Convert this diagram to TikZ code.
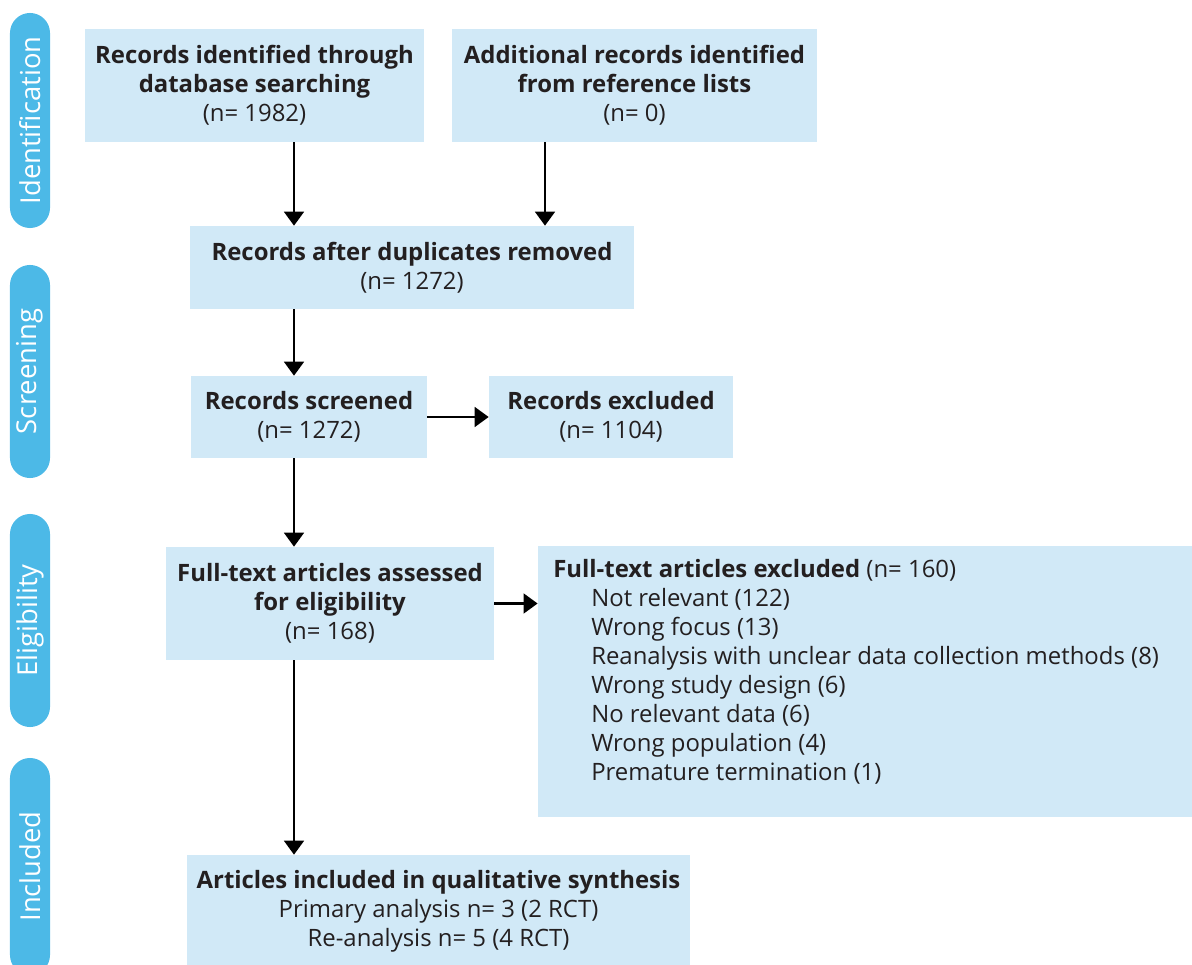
\documentclass[tikz,border=0pt]{standalone}
\usepackage{fontspec}
\setmainfont{Open Sans}
\usetikzlibrary{arrows.meta, positioning}
\definecolor{boxblue}{RGB}{209,233,247}
\definecolor{pillblue}{RGB}{76,185,231}
\definecolor{txtdark}{RGB}{35,31,32}
\tikzset{
  stage/.style={rectangle, fill=pillblue, rounded corners=0.5cm, minimum width=1cm,
    inner sep=0pt, text=white, font=\fontsize{17}{20.6}\selectfont},
  stagetext/.style={rotate=90, text=white, font=\fontsize{19.5}{22}\selectfont},
  recbox/.style={rectangle, fill=boxblue, align=center, inner sep=0pt,
    text=txtdark, font=\fontsize{17}{20.6}\selectfont},
  flow/.style={-{Triangle[width=14pt, length=10pt]}, line width=2pt, color=black}
}

\begin{document}
\begin{tikzpicture}[x=0.025cm, y=-0.025cm]
  \useasboundingbox (0,0) rectangle (1192,965);

  % Stage labels on the left
  \node[stage, minimum height=5.375cm] (sIdent) at (30,120.5) {};
  \node[stagetext] at (sIdent) {Identification};
  \node[stage, minimum height=5.325cm] (sScreen) at (30,371.5) {};
  \node[stagetext] at (sScreen) {Screening};
  \node[stage, minimum height=5.325cm] (sElig) at (30,620.5) {};
  \node[stagetext] at (sElig) {Eligibility};
  \node[stage, minimum height=5.425cm] (sIncl) at (30,866.5) {};
  \node[stagetext] at (sIncl) {Included};

  % Identification
  \node[recbox, minimum width=8.475cm, minimum height=2.825cm] (dbase) at (254.5,85.5)
    {\textbf{Records identified through}\\\textbf{database searching}\\(n= 1982)};
  \node[recbox, minimum width=9.125cm, minimum height=2.825cm] (refs) at (634.5,85.5)
    {\textbf{Additional records identified}\\\textbf{from reference lists}\\(n= 0)};

  % Screening
  \node[recbox, minimum width=11.1cm, minimum height=2.075cm] (dedup) at (412,267.5)
    {\textbf{Records after duplicates removed}\\(n= 1272)};
  \node[recbox, minimum width=5.9cm, minimum height=2.05cm] (screened) at (309,417)
    {\textbf{Records screened}\\(n= 1272)};
  \node[recbox, minimum width=6.1cm, minimum height=2.05cm] (excl) at (611,417)
    {\textbf{Records excluded}\\(n= 1104)};

  % Eligibility
  \node[recbox, minimum width=8.2cm, minimum height=2.825cm] (fulltext) at (330,603.5)
    {\textbf{Full-text articles assessed}\\\textbf{for eligibility}\\(n= 168)};
  \node[recbox, minimum width=16.35cm, minimum height=6.775cm] (ftexcl) at (865,681.5) {};
  \node[anchor=north west, align=left, inner sep=0pt, text=txtdark,
    font=\fontsize{17}{20.6}\selectfont] (ftlist) at (553,559)
    {\textbf{Full-text articles excluded} (n= 160)\\
     \hspace*{0.95cm}Not relevant (122)\\
     \hspace*{0.95cm}Wrong focus (13)\\
     \hspace*{0.95cm}Reanalysis with unclear data collection methods (8)\\
     \hspace*{0.95cm}Wrong study design (6)\\
     \hspace*{0.95cm}No relevant data (6)\\
     \hspace*{0.95cm}Wrong population (4)\\
     \hspace*{0.95cm}Premature termination (1)};

  % Included
  \node[recbox, minimum width=12.575cm, minimum height=2.8cm] (incl) at (438.5,911)
    {\textbf{Articles included in qualitative synthesis}\\Primary analysis n= 3 (2 RCT)\\Re-analysis n= 5 (4 RCT)};

  % Connectors
  \coordinate (spine) at (294,0);
  \coordinate (spineB) at (545,0);
  \draw[flow] (dbase.south -| spine) -- (dedup.north -| spine);
  \draw[flow] (refs.south -| spineB) -- (dedup.north -| spineB);
  \draw[flow] (dedup.south -| spine) -- (screened.north -| spine);
  \draw[flow] (screened.east) -- (excl.west);
  \draw[flow] (screened.south -| spine) -- (fulltext.north -| spine);
  \draw[flow] (fulltext.east) -- (fulltext.east -| ftexcl.west);
  \draw[flow] (fulltext.south -| spine) -- (incl.north -| spine);
\end{tikzpicture}
\end{document}
